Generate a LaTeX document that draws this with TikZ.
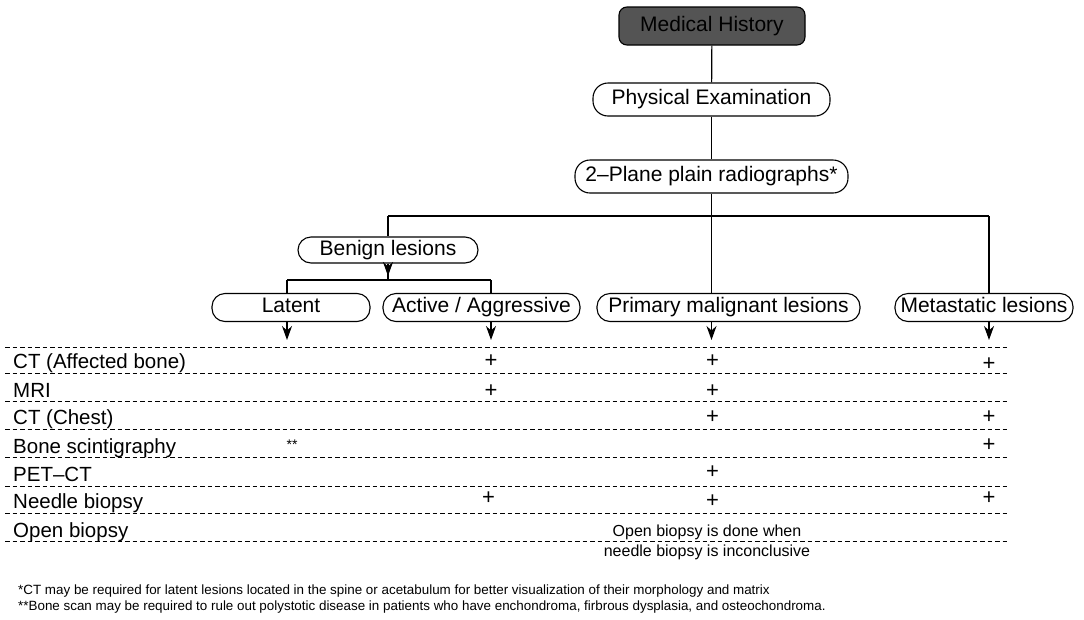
\documentclass[tikz,border=0pt]{standalone}
\usepackage{fontspec}
\setmainfont{Liberation Sans}
\usetikzlibrary{arrows.meta}
\begin{document}
\begin{tikzpicture}[x=1pt,y=-1pt,
  box/.style={draw=black, line width=1.1pt, rounded corners=13pt, inner sep=0pt,
    text height=15pt, text depth=4.5pt,
    font=\fontsize{21}{25}\selectfont, text=black},
  lvl/.style={box, minimum height=28pt},
  conn/.style={line width=1.2pt},
  arr/.style={line width=1.2pt, -{Stealth[length=14pt,width=10pt,inset=4.5pt]}},
  rowline/.style={draw=black, line width=1pt, dash pattern=on 4.5pt off 3pt},
  lab/.style={anchor=base west, inner sep=0pt, font=\fontsize{20.5}{24}\selectfont},
  plus/.style={inner sep=0pt, font=\fontsize{22}{24}\selectfont},
  foot/.style={anchor=base west, inner sep=0pt, font=\fontsize{13.4}{15}\selectfont}]
\useasboundingbox (0,0) rectangle (1084,619);

% --- flowchart nodes ---
\node[box, fill=black!67, rounded corners=8pt, minimum width=186pt, minimum height=38pt] (mh) at (712,26) {Medical History};
\node[box, minimum width=237pt, minimum height=33pt, rounded corners=15pt] (pe) at (711.5,99.5) {Physical Examination};
\node[box, minimum width=273pt, minimum height=33pt, rounded corners=15pt] (xr) at (711.5,176.5) {2–Plane plain radiographs*};
\node[box, minimum width=180pt, minimum height=26pt] (ben) at (388,250) {Benign lesions};
\node[lvl, minimum width=158pt] (lat) at (291,307.5) {Latent};
\node[lvl, minimum width=197pt] (act) at (481.5,307.5) {Active / Aggressive};
\node[lvl, minimum width=263pt] (pri) at (728.5,307.5) {Primary malignant lesions};
\node[lvl, minimum width=178pt] (met) at (984,307.5) {Metastatic lesions};

% --- junction coordinates ---
\coordinate (jL) at (388,216);
\coordinate (jM) at (711.5,216);
\coordinate (jR) at (989,216);
\coordinate (bJ) at (388,280);
\coordinate (bL) at (287,280);
\coordinate (bR) at (491,280);
\coordinate (tL) at (287,340);
\coordinate (tA) at (491,340);
\coordinate (tP) at (711.5,340);
\coordinate (tM) at (989,340);
\coordinate (bA) at (388,276);

% --- connectors ---
\draw[conn] (mh) -- (pe);
\draw[conn] (pe) -- (xr);
\draw[conn] (xr) -- (jM);
\draw[conn] (jL) -- (jR);
\draw[conn] (jL) -- (ben);
\draw[conn] (jM) -- (jM |- pri.north);
\draw[conn] (jR) -- (jR |- met.north);
\draw[conn] (ben) -- (bJ);
\draw[arr] (ben.south) -- (bA);
\draw[conn] (bL) -- (bR);
\draw[conn] (bL) -- (bL |- lat.north);
\draw[conn] (bR) -- (bR |- act.north);
\draw[arr] (tL |- lat.south) -- (tL);
\draw[arr] (tA |- act.south) -- (tA);
\draw[arr] (tP |- pri.south) -- (tP);
\draw[arr] (tM |- met.south) -- (tM);

% --- table lines ---
\foreach \y in {347.3,373.3,401.7,429,457.7,486,513.3,541.7}
  \draw[rowline] (5,\y) -- (1007,\y);

% --- row labels ---
\node[lab] (r1) at (13,368.8) {CT (Affected bone)};
\node[lab] (r2) at (13,397.2) {MRI};
\node[lab] (r3) at (13,424.5) {CT (Chest)};
\node[lab] (r4) at (13,453.2) {Bone scintigraphy};
\node[lab] (r5) at (13,481.5) {PET–CT};
\node[lab] (r6) at (13,508.8) {Needle biopsy};
\node[lab] (r7) at (13,537.2) {Open biopsy};

% --- marks ---
\node[plus] (m1a) at (491,361) {+};
\node[plus] (m1p) at (712.5,361) {+};
\node[plus] (m1m) at (989,364) {+};
\node[plus] (m2a) at (491,391.5) {+};
\node[plus] (m2p) at (712.5,391.5) {+};
\node[plus] (m3p) at (712.5,417.5) {+};
\node[plus] (m3m) at (989,417.5) {+};
\node[inner sep=0pt, font=\fontsize{14}{16}\selectfont] (m4l) at (292,445) {**};
\node[plus] (m4m) at (989,445.5) {+};
\node[plus] (m5p) at (712.5,472.5) {+};
\node[plus] (m6a) at (488.5,498) {+};
\node[plus] (m6p) at (712.5,501.5) {+};
\node[plus] (m6m) at (989,498) {+};
\node[inner sep=0pt, align=center, font=\fontsize{16}{20}\selectfont] (ob) at (707,542.7) {Open biopsy is done when\\needle biopsy is inconclusive};

% --- footnotes ---
\node[foot] (f1) at (18,594) {*CT may be required for latent lesions located in the spine or acetabulum for better visualization of their morphology and matrix};
\node[foot] (f2) at (18,610) {**Bone scan may be required to rule out polystotic disease in patients who have enchondroma, firbrous dysplasia, and osteochondroma.};
\end{tikzpicture}
\end{document}
